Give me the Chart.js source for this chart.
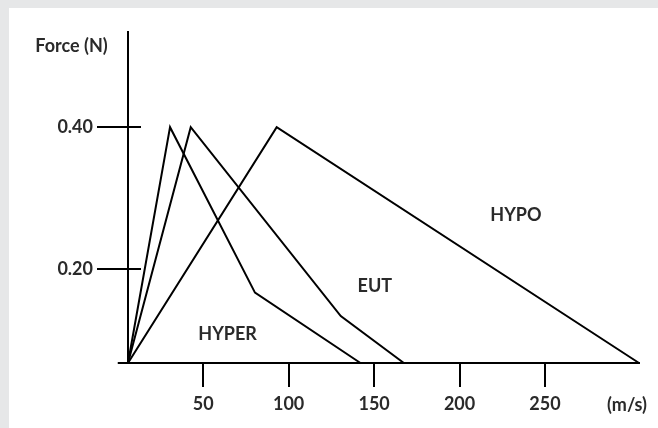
<!DOCTYPE html>
<html><head><meta charset="utf-8">
<script src="https://cdn.jsdelivr.net/npm/chart.js@4"></script>
<style>html,body{margin:0;padding:0;background:#e6e7e8;}canvas{display:block;}</style>
</head><body>
<canvas id="c" width="658" height="428"></canvas>
<script>
// ---- data ----
const speedTicks = [50, 100, 150, 200, 250];
const forceTicks = [0.20, 0.40];
const hyperSpeed = [6, 30.6, 80.3, 142];
const hyperForce = [0.068, 0.40, 0.167, 0.068];
const eutSpeed = [6, 42.7, 130.5, 167.4];
const eutForce = [0.068, 0.40, 0.134, 0.068];
const hypoSpeed = [6, 93, 305];
const hypoForce = [0.068, 0.40, 0.068];
const seriesNames = ['HYPER', 'EUT', 'HYPO'];
const labelSpeed = [64.3, 150.4, 233];
const labelForce = [0.108, 0.176, 0.276];
const yTitle = 'Force (N)';
const xUnit = '(m/s)';

const TXT = '#2a2a2a';
const FAMILY = 'Lato, "Liberation Sans", sans-serif';
const FONT = {family: FAMILY, size: 18, weight: 'bold'};

function pts(xs, ys){ return xs.map((x,i)=>({x:x, y:ys[i]})); }

const frame = {
  id: 'frame',
  beforeDraw(chart){
    const c = chart.ctx;
    c.save();
    c.fillStyle = '#e6e7e8';
    c.fillRect(0,0,chart.width,chart.height);
    c.fillStyle = '#ffffff';
    c.fillRect(9,8,chart.width-9,chart.height-8);
    c.restore();
  },
  afterDraw(chart){
    const c = chart.ctx, xs = chart.scales.x, ys = chart.scales.y;
    const a = chart.chartArea;
    c.save();
    c.strokeStyle = '#000'; c.lineWidth = 2;
    // inward part of y tick marks
    forceTicks.forEach(v=>{
      const py = Math.round(ys.getPixelForValue(v));
      c.beginPath(); c.moveTo(a.left, py); c.lineTo(a.left+13, py); c.stroke();
    });
    // x axis extends left of the y axis
    const by = Math.round(a.bottom);
    c.beginPath(); c.moveTo(xs.getPixelForValue(0), by); c.lineTo(a.left, by); c.stroke();
    // texts
    c.fillStyle = TXT;
    c.font = 'bold 18px ' + FAMILY;
    c.textAlign = 'center'; c.textBaseline = 'middle';
    seriesNames.forEach((n,i)=>{
      c.fillText(n, xs.getPixelForValue(labelSpeed[i]), ys.getPixelForValue(labelForce[i]));
    });
    c.fillText(yTitle, 71.5, 46);
    c.fillText(xUnit, 627, 405);
    c.restore();
  }
};

const ds = (xs, ys)=>({data: pts(xs, ys), borderColor:'#000', borderWidth:2, pointRadius:0, tension:0, fill:false, clip:6, borderJoinStyle:'miter'});

new Chart(document.getElementById('c'), {
  type: 'line',
  data: { datasets: [ds(hyperSpeed, hyperForce), ds(eutSpeed, eutForce), ds(hypoSpeed, hypoForce)] },
  options: {
    responsive: false, animation: false, devicePixelRatio: 1,
    layout: {padding: {left:0, top:32, right:19, bottom:0}},
    plugins: {legend:{display:false}, tooltip:{enabled:false}, title:{display:false}},
    scales: {
      x: {
        type: 'linear', position: 'bottom', min: 6, max: 305,
        afterFit(s){ s.height = 65; },
        afterBuildTicks(s){ s.ticks = speedTicks.map(v=>({value:v})); },
        grid: {drawOnChartArea:false, drawTicks:true, tickLength:24, color:'#000', lineWidth:2},
        border: {display:true, color:'#000', width:2},
        ticks: {color:TXT, font:FONT, padding:6, maxRotation:0, autoSkip:false, callback:v=>String(v)}
      },
      y: {
        type: 'linear', position: 'left', min: 0.068, max: 0.534,
        afterFit(s){ s.width = 128; },
        afterBuildTicks(s){ s.ticks = forceTicks.map(v=>({value:v})); },
        grid: {drawOnChartArea:false, drawTicks:true, tickLength:31, color:'#000', lineWidth:2},
        border: {display:true, color:'#000', width:2},
        ticks: {color:TXT, font:FONT, padding:4, autoSkip:false, callback:v=>Number(v).toFixed(2)}
      }
    }
  },
  plugins: [frame]
});
</script>
</body></html>
